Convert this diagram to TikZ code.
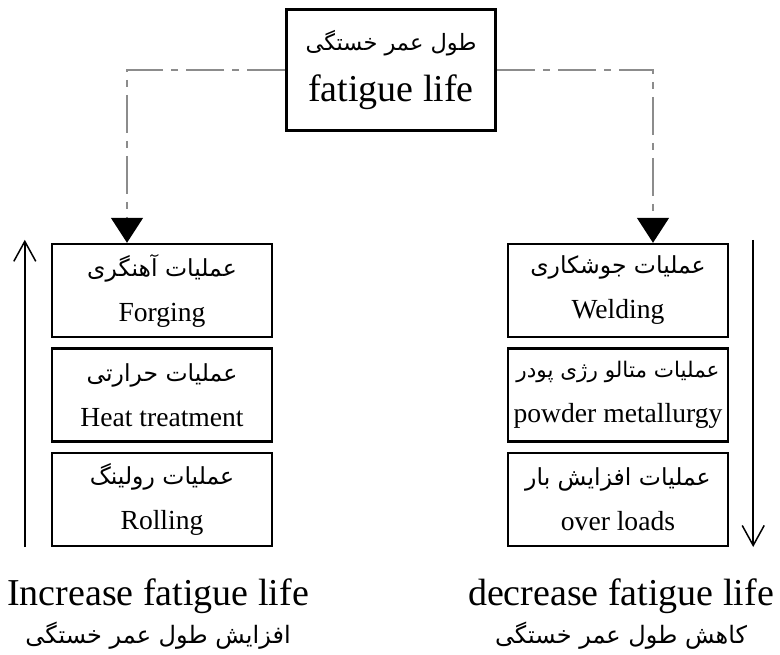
\documentclass[tikz,border=0pt]{standalone}
\usepackage{fontspec}
\setmainfont{Liberation Serif}
\newfontfamily\fafont[Script=Arabic]{DejaVu Sans}
\TeXXeTstate=1
\usetikzlibrary{arrows.meta,positioning}
\definecolor{linkgray}{HTML}{8C8C8C}
\newcommand{\fa}[2][23.5]{{\fontsize{#1}{#1}\fafont\beginR #2\endR}}
\tikzset{
  hub/.style  ={draw=black, line width=3pt, align=center, inner sep=0pt,
                minimum width=209pt, minimum height=121pt,
                font=\fontsize{38}{51}\selectfont},
  proc/.style ={draw=black, line width=2.4pt, align=center, inner sep=0pt,
                minimum width=220pt, minimum height=93pt,
                font=\fontsize{27.6}{45}\selectfont},
  fl/.style   ={draw=linkgray, line width=1.5pt,
                dash pattern=on 38pt off 8pt on 7pt off 8pt,
                -{Triangle[length=25pt,width=32pt,color=black]}},
  trend/.style={draw=black, line width=1.5pt,
                -{Straight Barb[length=20pt,width=22pt,line width=1.5pt]}},
  ttl/.style  ={align=center, inner sep=0pt, font=\fontsize{38}{38}\selectfont},
}

\begin{document}
\begin{tikzpicture}[x=1pt,y=-1pt]
  \useasboundingbox (0,0) rectangle (780,655);
  % top
  \node[hub] (life) at (391,70) {\fa[22.5]{طول عمر خستگی}\\fatigue life};
  % increasing side
  \node[proc] (forge) at (162,290.5) {\fa{عملیات آهنگری}\\Forging};
  \node[proc,below=9pt of forge] (heat) {\fa{عملیات حرارتی}\\Heat treatment};
  \node[proc,below=9pt of heat] (roll) {\fa{عملیات رولینگ}\\Rolling};
  % decreasing side
  \node[proc] (weld) at (618,290.5) {\fa{عملیات جوشکاری}\\Welding};
  \node[proc,below=9pt of weld] (powder) {\fa[21.5]{عملیات متالو رژی پودر}\\powder metallurgy};
  \node[proc,below=9pt of powder] (load) {\fa{عملیات افزایش بار}\\over loads};
  % links
  \draw[fl] (life.west) -| ([xshift=-35pt]forge.north);
  \draw[fl] (life.east) -| ([xshift=35pt]weld.north);
  \draw[trend] ([xshift=-26pt]roll.south west) -- ([xshift=-26pt,yshift=3pt]forge.north west);
  \draw[trend] ([xshift=24pt,yshift=3pt]weld.north east) -- ([xshift=24pt]load.south east);
  % captions
  \node[ttl,anchor=north] (up) at (158,579) {Increase fatigue life\\\fa[24]{افزایش طول عمر خستگی}};
  \node[ttl,anchor=north] (down) at (621,579) {decrease fatigue life\\\fa[24]{کاهش طول عمر خستگی}};
\end{tikzpicture}
\end{document}
